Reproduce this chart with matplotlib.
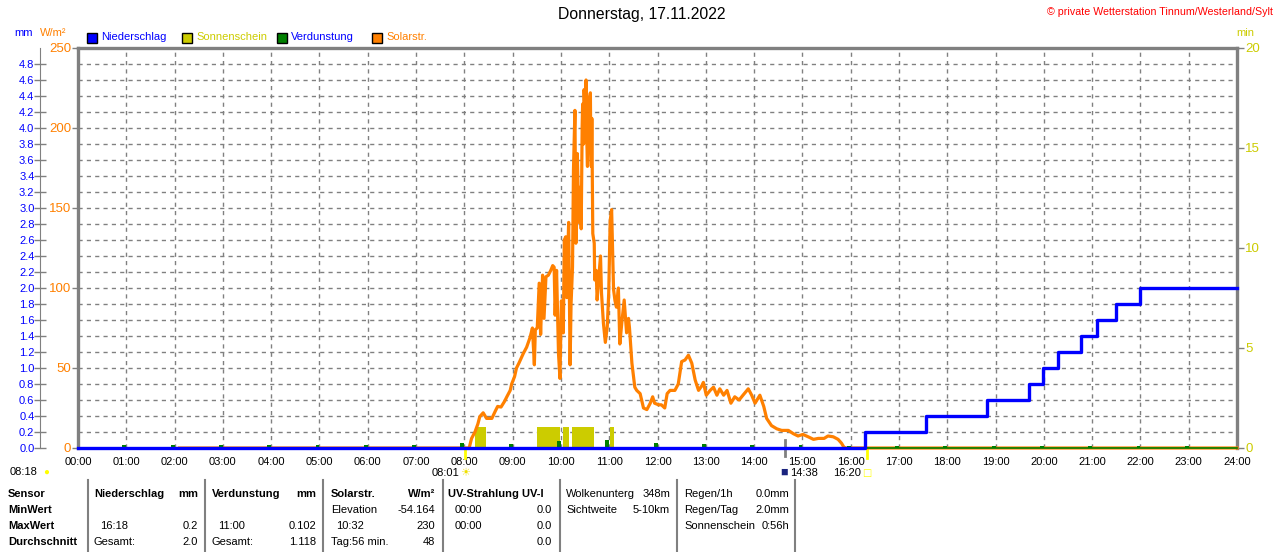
import matplotlib
matplotlib.use("Agg")
import matplotlib.pyplot as plt
from matplotlib.patches import Rectangle
from matplotlib.ticker import MultipleLocator, FixedLocator
import numpy as np

plt.rcParams["font.family"] = ["Liberation Sans", "DejaVu Sans"]
plt.rcParams["font.size"] = 8

BLUE = "#0000FF"
YELLOW = "#CCCC00"
GREEN = "#008000"
ORANGE = "#FF8000"
GREY = "#808080"

HOUR_LABELS = [f"{h:02d}:00" for h in range(25)]

# Niederschlag (mm, kumuliert) - Stufen
RAIN_TIMES = ["00:00", "16:18", "17:34", "18:49", "19:42", "19:59", "20:18",
              "20:46", "21:06", "21:30", "22:00", "24:00"]
RAIN_MM = [0.0, 0.2, 0.4, 0.6, 0.8, 1.0, 1.2, 1.4, 1.6, 1.8, 2.0, 2.0]

# Verdunstung (mm) je Stunde
EVAP_HOURS = list(range(1, 24))
EVAP_MM = [0.04, 0.04, 0.04, 0.04, 0.04, 0.04, 0.04, 0.06, 0.05, 0.09, 0.102,
           0.06, 0.05, 0.04, 0.04, 0.03, 0.02, 0.02, 0.02, 0.02, 0.02, 0.02, 0.02]

# Sonnenschein (min) - Intervalle
SUN_START = [8.22, 9.51, 10.05, 10.22, 11.02]
SUN_END = [8.45, 9.98, 10.17, 10.69, 11.10]
SUN_MIN = [1.05, 1.05, 1.05, 1.05, 1.05]

# Solarstrahlung (W/m2)
SOLAR_T = [2.10, 8.10, 8.15, 8.22, 8.28, 8.32, 8.39, 8.46, 8.57, 8.64,
           8.69, 8.76, 8.83, 8.88, 8.95, 8.98, 9.04, 9.08, 9.13, 9.22,
           9.29, 9.36, 9.41, 9.45, 9.47, 9.51, 9.55, 9.58, 9.62, 9.65,
           9.69, 9.74, 9.79, 9.83, 9.86, 9.88, 9.91, 9.95, 9.98, 10.01,
           10.05, 10.07, 10.10, 10.12, 10.16, 10.19, 10.21, 10.24, 10.26, 10.29,
           10.31, 10.34, 10.37, 10.40, 10.42, 10.44, 10.45, 10.47, 10.48, 10.50,
           10.52, 10.53, 10.55, 10.56, 10.58, 10.59, 10.61, 10.62, 10.63, 10.64,
           10.66, 10.69, 10.70, 10.73, 10.75, 10.79, 10.82, 10.84,
           10.88, 10.92, 10.96, 10.99, 11.02, 11.05, 11.09, 11.12, 11.15, 11.19,
           11.22, 11.26, 11.31, 11.36, 11.40, 11.42, 11.47, 11.53, 11.57, 11.64,
           11.71, 11.78, 11.85, 11.90, 11.94, 12.02, 12.08, 12.15, 12.20, 12.26,
           12.36, 12.43, 12.50, 12.57, 12.64, 12.71, 12.78, 12.85, 12.92, 12.95,
           13.01, 13.09, 13.16, 13.23, 13.29, 13.37, 13.44, 13.52, 13.60, 13.69,
           13.77, 13.88, 13.95, 14.02, 14.12, 14.20, 14.26, 14.36, 14.47, 14.57,
           14.71, 14.81, 14.91, 15.01, 15.12, 15.23, 15.33, 15.45, 15.53, 15.64,
           15.74, 15.81, 15.86, 15.90, 24.00]
SOLAR_W = [0, 0, 6, 10, 15, 19.6, 22, 18.5, 18.5, 23,
           26, 25.6, 29, 32, 36, 40, 44.6, 50, 53, 59,
           63, 69, 75, 52, 74, 75, 103, 71, 108, 81,
           107, 108, 111, 114, 113, 83, 111, 59, 43.5, 92,
           72, 130, 132, 94, 141, 52, 90, 113, 174, 211,
           128, 184, 141, 163, 137, 201, 215, 190, 224, 205,
           230, 200, 176, 214, 192, 218, 222, 185, 176, 206,
           134, 128, 105, 111, 92.5, 109, 120, 97,
           78, 66, 76, 97, 142, 149, 99, 92, 88, 100,
           65, 78, 92.5, 72, 81, 75, 53, 38, 36, 34,
           25, 24, 28, 32, 28, 27, 27, 25, 34, 36,
           36, 40, 54, 55, 58, 53, 42.5, 36, 39, 41,
           33, 36, 38, 33, 37, 33, 36, 28, 32, 30,
           33, 37, 33, 28, 33, 26, 18.5, 14, 12, 11,
           11, 9, 7.5, 8.5, 7, 5.4, 6, 6, 7.5, 7,
           5.4, 3, 0.5, 0, 0]


def hm(s):
    h, m = s.split(":")
    return int(h) + int(m) / 60.0


def px(x, y):
    return x / 1280.0, 1 - y / 552.0


fig = plt.figure(figsize=(12.8, 5.52), dpi=100)
rect = [78 / 1280, 1 - 448 / 552, 1159 / 1280, 400 / 552]

# base axes: Sonnenschein (min, right) + grid
axs = fig.add_axes(rect)
axs.set_xlim(0, 24)
axs.set_ylim(0, 20)
axs.set_axisbelow(True)
axs.xaxis.set_major_locator(FixedLocator(range(25)))
axs.set_xticklabels(HOUR_LABELS)
axs.tick_params(axis="x", length=0, pad=6.5, labelsize=8)
axs.yaxis.set_major_locator(MultipleLocator(5))
axs.yaxis.set_minor_locator(MultipleLocator(0.8))
axs.grid(True, axis="x", which="major", color=GREY, ls=(0, (3, 3)), lw=1)
axs.grid(True, axis="y", which="minor", color=GREY, ls=(0, (3, 3)), lw=1)
axs.bar(SUN_START, SUN_MIN, width=np.subtract(SUN_END, SUN_START),
        align="edge", color=YELLOW, edgecolor="none", zorder=2)

# Solarstrahlung
ax = axs.twinx()
ax.set_ylim(0, 250)
ax.plot(SOLAR_T, SOLAR_W, color=ORANGE, lw=2.3, clip_on=False, zorder=3)

# Niederschlag / Verdunstung (mm)
axm = axs.twinx()
axm.set_ylim(0, 5.0)
axm.bar(EVAP_HOURS, EVAP_MM, width=-0.08, align="edge", color=GREEN, zorder=3)
axm.axhline(0, color=GREEN, lw=1.2, clip_on=False)
axm.plot([hm(t) for t in RAIN_TIMES], RAIN_MM, drawstyle="steps-post",
         color=BLUE, lw=2.4, clip_on=False, zorder=4)

# axes layout
axs.yaxis.tick_right()
axs.tick_params(axis="y", which="major", colors=GREY, labelcolor=YELLOW,
                length=5, width=1, pad=1, labelsize=9.5)
axs.tick_params(axis="y", which="minor", length=0)
for sp in ("left", "bottom"):
    axs.spines[sp].set_visible(False)
axs.spines["top"].set_color(GREY)
axs.spines["top"].set_linewidth(2.4)
axs.spines["right"].set_color(GREY)
axs.spines["right"].set_linewidth(2.4)

ax.yaxis.tick_left()
ax.yaxis.set_major_locator(MultipleLocator(50))
ax.tick_params(axis="y", colors=GREY, labelcolor=ORANGE, length=4, width=1,
               pad=1, labelsize=9.5)
for sp in ("top", "right", "bottom"):
    ax.spines[sp].set_visible(False)
ax.spines["left"].set_color(GREY)
ax.spines["left"].set_linewidth(2.4)

axm.yaxis.tick_left()
axm.spines["left"].set_position(("axes", -38 / 1159))
axm.spines["left"].set_visible(True)
axm.spines["left"].set_color(GREY)
for sp in ("top", "right", "bottom"):
    axm.spines[sp].set_visible(False)
axm.yaxis.set_major_locator(FixedLocator(np.arange(0, 4.81, 0.2)))
axm.set_yticklabels([f"{v:.1f}" for v in np.arange(0, 4.81, 0.2)])
axm.tick_params(axis="y", colors=GREY, labelcolor=BLUE, length=8, width=1,
                direction="inout", pad=0, labelsize=8)

# marks under the axis (sunrise / culmination / sunset)
ax.axvline(hm("08:01"), ymin=-0.025, ymax=0, color="#FFFF00", lw=2, clip_on=False)
ax.axvline(hm("16:20"), ymin=-0.025, ymax=0, color="#FFFF00", lw=2, clip_on=False)
ax.axvline(hm("14:38"), ymin=-0.02, ymax=0.02, color=GREY, lw=2, clip_on=False)

# header texts
fig.text(*px(642, 15), "Donnerstag, 17.11.2022", ha="center", va="center",
         fontsize=11.3)
fig.text(*px(1273, 12), "\u00a9 private Wetterstation Tinnum/Westerland/Sylt",
         ha="right", va="center", color="#FF0000", fontsize=7.7)
fig.text(*px(14, 33), "mm", color=BLUE, va="center", fontsize=8)
fig.text(*px(40, 33), "W/m\u00b2", color=ORANGE, va="center", fontsize=8)
fig.text(*px(1245, 33), "min", color=YELLOW, va="center", ha="center", fontsize=8)

legend_items = [(87, BLUE, "Niederschlag", BLUE),
                (182, YELLOW, "Sonnenschein", YELLOW),
                (277, GREEN, "Verdunstung", BLUE),
                (372, ORANGE, "Solarstr.", ORANGE)]
for x0, fc, label, tc in legend_items:
    fig.patches.append(Rectangle(px(x0, 43), 10 / 1280, 10 / 552,
                                 transform=fig.transFigure, facecolor=fc,
                                 edgecolor="black", lw=1))
    fig.text(*px(x0 + 14, 37.5), label, color=tc, va="center", fontsize=8)

# labels under the x axis
fig.text(*px(10, 472), "08:18", va="center", fontsize=8)
fig.text(*px(46, 472), "\u25cf", color="#FFFF00", va="center", ha="center", fontsize=7)
fig.text(*px(459, 473), "08:01", va="center", ha="right", fontsize=8)
fig.text(*px(465, 473), "\u2600", color="#F0E000", va="center", ha="center",
         fontsize=8, family=["DejaVu Sans"])
fig.text(*px(784, 473), "\u25a0", color="#1A237E", va="center", ha="center", fontsize=9)
fig.text(*px(790, 473), "14:38", va="center", fontsize=8)
fig.text(*px(861, 473), "16:20", va="center", ha="right", fontsize=8)
fig.text(*px(867, 473), "\u25a1", color="#FFFF00", va="center", ha="center",
         fontsize=7, family=["DejaVu Sans"])

# summary table
for xs in (88, 205, 323, 443, 560, 677, 795):
    fig.add_artist(plt.Line2D([xs / 1280, xs / 1280], [1 - 480 / 552, 0],
                              color=GREY, lw=1.5))

ROWS = [494, 510, 526, 542]
left_cells = [
    (8, 0, "Sensor", True), (8, 1, "MinWert", True), (8, 2, "MaxWert", True),
    (8, 3, "Durchschnitt", True),
    (94, 0, "Niederschlag", True), (100, 2, "16:18", False), (94, 3, "Gesamt:", False),
    (212, 0, "Verdunstung", True), (218, 2, "11:00", False), (212, 3, "Gesamt:", False),
    (331, 0, "Solarstr.", True), (331, 1, "Elevation", False),
    (336, 2, "10:32", False), (331, 3, "Tag:56 min.", False),
    (448, 0, "UV-Strahlung UV-I", True), (455, 1, "00:00", False),
    (455, 2, "00:00", False),
    (566, 0, "Wolkenunterg", False), (566, 1, "Sichtweite", False),
    (684, 0, "Regen/1h", False), (684, 1, "Regen/Tag", False),
    (684, 2, "Sonnenschein", False),
]
right_cells = [
    (198, 0, "mm", True), (198, 2, "0.2", False), (198, 3, "2.0", False),
    (316, 0, "mm", True), (316, 2, "0.102", False), (316, 3, "1.118", False),
    (435, 0, "W/m\u00b2", True), (435, 1, "-54.164", False), (435, 2, "230", False),
    (435, 3, "48", False),
    (552, 1, "0.0", False), (552, 2, "0.0", False), (552, 3, "0.0", False),
    (670, 0, "348m", False), (670, 1, "5-10km", False),
    (789, 0, "0.0mm", False), (789, 1, "2.0mm", False), (789, 2, "0:56h", False),
]
for x0, r, s, b in left_cells:
    fig.text(*px(x0, ROWS[r]), s, va="center", ha="left", fontsize=8,
             weight="bold" if b else "normal")
for x0, r, s, b in right_cells:
    fig.text(*px(x0, ROWS[r]), s, va="center", ha="right", fontsize=8,
             weight="bold" if b else "normal")

fig.savefig("out.png", dpi=100, facecolor="white")
